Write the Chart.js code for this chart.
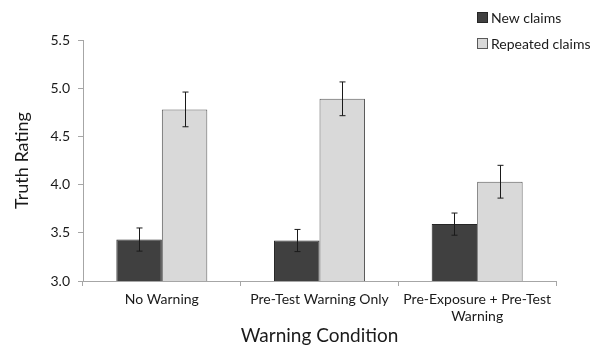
<!DOCTYPE html>
<html>
<head>
<meta charset="utf-8">
<script src="https://cdn.jsdelivr.net/npm/chart.js@4/dist/chart.umd.min.js"></script>
<style>
  html, body { margin: 0; padding: 0; background: #fff; }
  #wrap { width: 603px; height: 348px; position: relative; }
</style>
</head>
<body>
<div id="wrap"><canvas id="grafico" width="603" height="348"></canvas></div>
<script>
// ---------- dados ----------
const categorias = ["No Warning", "Pre-Test Warning Only", ["Pre-Exposure + Pre-Test", "Warning"]];
const seriesNomes = ["New claims", "Repeated claims"];
const novas = [3.43, 3.42, 3.59];
const novasErro = [0.12, 0.115, 0.115];
const repetidas = [4.78, 4.89, 4.03];
const repetidasErro = [0.18, 0.175, 0.17];
const yTicks = [3.0, 3.5, 4.0, 4.5, 5.0, 5.5];

const FONTE = "Lato, 'Open Sans', sans-serif";
const TEXTO = "#1a1a1a";
const EIXO = "#a6a6a6";

// ---------- barras de erro ----------
const errorBarsPlugin = {
  id: "errorBars",
  afterDatasetsDraw(chart) {
    const ctx = chart.ctx;
    const y = chart.scales.y;
    chart.data.datasets.forEach((ds, i) => {
      const meta = chart.getDatasetMeta(i);
      meta.data.forEach((bar, j) => {
        const v = ds.data[j], e = ds.erros[j];
        const top = y.getPixelForValue(v + e);
        const bot = y.getPixelForValue(v - e);
        const x = Math.round(bar.x) + 0.5;
        ctx.save();
        ctx.strokeStyle = "#1a1a1a";
        ctx.lineWidth = 1;
        ctx.beginPath();
        ctx.moveTo(x, top); ctx.lineTo(x, bot);
        ctx.moveTo(x - 3, top); ctx.lineTo(x + 3, top);
        ctx.moveTo(x - 3, bot); ctx.lineTo(x + 3, bot);
        ctx.stroke();
        ctx.restore();
      });
    });
  }
};

// ---------- legenda ----------
const legendaPlugin = {
  id: "legendaCustom",
  afterDraw(chart) {
    const ctx = chart.ctx;
    ctx.save();
    ctx.font = "14px " + FONTE;
    ctx.textBaseline = "middle";
    chart.data.datasets.forEach((ds, i) => {
      const cy = 18 + i * 26;
      ctx.fillStyle = ds.backgroundColor;
      ctx.fillRect(477.5, cy - 5.5, 10, 10);
      ctx.strokeStyle = ds.borderColor;
      ctx.lineWidth = 1;
      ctx.strokeRect(477.5, cy - 5.5, 10, 10);
      ctx.fillStyle = TEXTO;
      ctx.fillText(ds.label, 491, cy);
    });
    ctx.restore();
  }
};

const ctx = document.getElementById("grafico").getContext("2d");
new Chart(ctx, {
  type: "bar",
  data: {
    labels: categorias,
    datasets: [
      { label: seriesNomes[0], data: novas, erros: novasErro, backgroundColor: "#404040", borderColor: "#262626", borderWidth: 1 },
      { label: seriesNomes[1], data: repetidas, erros: repetidasErro, backgroundColor: "#d9d9d9", borderColor: "#595959", borderWidth: 1 }
    ]
  },
  options: {
    responsive: false,
    animation: false,
    events: [],
    layout: { padding: { top: 40, right: 47, bottom: 0, left: 0 } },
    datasets: { bar: { barPercentage: 1, categoryPercentage: 0.577 } },
    plugins: { legend: { display: false }, tooltip: { enabled: false } },
    scales: {
      x: {
        afterFit(s) { s.height = 67; },
        grid: { drawOnChartArea: false, color: EIXO, tickLength: 5, offset: true },
        border: { color: EIXO },
        ticks: { color: TEXTO, font: { family: FONTE, size: 14 }, padding: 5, maxRotation: 0 },
        title: { display: true, text: "Warning Condition", color: TEXTO, font: { family: FONTE, size: 19 }, padding: { top: 0, bottom: 1 } }
      },
      y: {
        min: 3, max: 5.5,
        afterFit(s) { s.width = 83; },
        afterBuildTicks(s) { s.ticks = yTicks.map(v => ({ value: v })); },
        grid: { drawOnChartArea: false, color: EIXO, tickLength: 5 },
        border: { color: EIXO },
        ticks: { color: TEXTO, font: { family: FONTE, size: 14 }, padding: 8, callback: v => Number(v).toFixed(1) },
        title: { display: true, text: "Truth Rating", color: TEXTO, font: { family: FONTE, size: 18 }, padding: { top: 11, bottom: 0 } }
      }
    }
  },
  plugins: [errorBarsPlugin, legendaPlugin]
});
</script>
</body>
</html>
